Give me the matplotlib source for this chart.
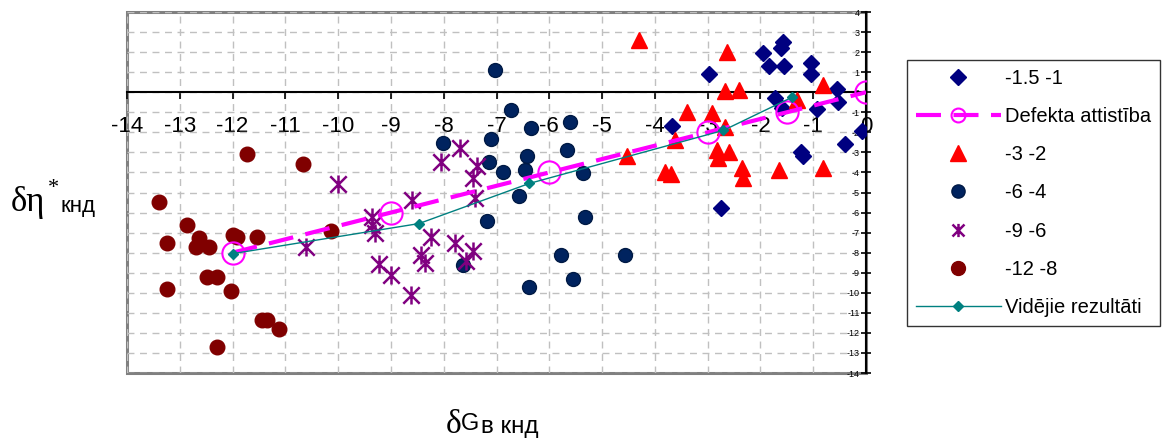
import numpy as np
import matplotlib
matplotlib.use('Agg')
import matplotlib.pyplot as plt
from matplotlib.path import Path
from matplotlib.patches import Rectangle

plt.rcParams.update({
    'font.family': ['Liberation Sans', 'DejaVu Sans'],
    'axes.unicode_minus': False,
})

# ---------------------------------------------------------------------------
# Data
# ---------------------------------------------------------------------------
g15_x = [-2.97, -3.67, -1.95, -1.84, -1.57, -1.61, -1.55, -1.72, -1.59, -1.04,
         -1.04, -0.93, -0.55, -0.53, -1.23, -1.20, -0.40, -0.08, -2.75]
g15_y = [0.9, -1.7, 1.95, 1.3, 2.5, 2.2, 1.3, -0.3, -0.8, 1.45,
         0.9, -0.85, 0.15, -0.5, -3.0, -3.2, -2.6, -1.95, -5.75]

g3_x = [-4.30, -2.63, -2.67, -2.40, -3.39, -2.92, -2.67, -3.62, -2.83, -2.80,
        -2.60, -2.35, -2.33, -3.81, -3.70, -1.65, -0.81, -0.81, -1.30, -4.53]
g3_y = [2.6, 2.0, 0.05, 0.1, -1.0, -1.05, -1.75, -2.4, -2.9, -3.3,
        -3.0, -3.8, -4.3, -4.0, -4.1, -3.9, -3.8, 0.35, -0.4, -3.2]

g6_x = [-7.03, -6.72, -6.34, -5.60, -8.01, -7.10, -6.42, -5.66, -7.14, -6.88,
        -6.46, -5.36, -6.57, -5.32, -7.18, -5.78, -4.56, -7.63, -5.55, -6.38]
g6_y = [1.1, -0.9, -1.8, -1.5, -2.55, -2.35, -3.2, -2.9, -3.5, -4.0,
        -3.9, -4.05, -5.15, -6.2, -6.4, -8.1, -8.1, -8.6, -9.3, -9.7]

g9_x = [-10.0, -7.70, -8.05, -7.37, -7.44, -8.60, -7.40, -10.6, -9.35, -9.35,
        -9.30, -8.24, -8.43, -8.35, -7.78, -7.44, -7.58, -9.22, -9.00, -8.62]
g9_y = [-4.6, -2.8, -3.5, -3.7, -4.3, -5.35, -5.25, -7.7, -6.2, -6.6,
        -7.0, -7.2, -8.1, -8.5, -7.5, -7.9, -8.4, -8.55, -9.1, -10.1]

g12_x = [-11.72, -10.66, -13.40, -12.86, -13.24, -12.63, -12.70, -12.44, -12.00, -11.92,
         -11.53, -10.13, -12.48, -12.29, -13.24, -12.03, -11.44, -11.35, -11.12, -12.29]
g12_y = [-3.1, -3.6, -5.45, -6.6, -7.5, -7.25, -7.7, -7.7, -7.1, -7.2,
         -7.2, -6.9, -9.2, -9.2, -9.8, -9.9, -11.35, -11.35, -11.8, -12.7]

defekts_x = [-12, -9, -6, -3, -1.5, 0]
defekts_y = [-8, -6, -4, -2, -1, 0]

videjie_x = [-12, -8.47, -6.38, -2.7, -1.4]
videjie_y = [-8.05, -6.55, -4.55, -1.9, -0.25]

x_ticks = np.arange(-14, 1, 1)
y_ticks = np.arange(-14, 5, 1)

# asterisk marker like in Excel (X + vertical bar)
star = Path([(-1, -1), (1, 1), (-1, 1), (1, -1), (0, -1.1), (0, 1.1)],
            [Path.MOVETO, Path.LINETO, Path.MOVETO, Path.LINETO, Path.MOVETO, Path.LINETO])

# ---------------------------------------------------------------------------
fig = plt.figure(figsize=(11.64, 4.41), dpi=100)
ax = fig.add_axes([127 / 1164, 1 - 373 / 441, (866 - 127) / 1164, (373 - 12) / 441])

ax.plot(g15_x, g15_y, linestyle='none', marker='D', ms=8.5, color='#000080',
        label='-1.5 -1', zorder=3)
ax.plot(defekts_x, defekts_y, color='#ff00ff', lw=3, dashes=(6, 3),
        marker='o', ms=16, mfc='none', mec='#ff00ff', mew=1.5,
        label='Defekta attistība', zorder=4)
ax.plot(g3_x, g3_y, linestyle='none', marker='^', ms=11, color='#ff0000',
        label='-3 -2', zorder=3)
ax.plot(g6_x, g6_y, linestyle='none', marker='o', ms=10, color='#00235f',
        mec='#001a45', label='-6 -4', zorder=3)
ax.plot(g9_x, g9_y, linestyle='none', marker=star, ms=13, color='#800080',
        mew=1.8, label='-9 -6', zorder=3)
ax.plot(g12_x, g12_y, linestyle='none', marker='o', ms=10.5, color='#800000',
        label='-12 -8', zorder=3)
ax.plot(videjie_x, videjie_y, color='#008080', lw=1, marker='D', ms=5,
        label='Vidējie rezultāti', zorder=5)

ax.set_xlim(-14, 0)
ax.set_ylim(-14, 4)
ax.set_xticks(x_ticks)
ax.set_yticks(y_ticks)
ax.set_xticklabels([str(v) for v in x_ticks])
ax.set_yticklabels([str(v) for v in y_ticks])

ax.grid(True, color='#c0c0c0', linestyle=(0, (5, 4)), linewidth=1)
ax.set_axisbelow(True)

# axes cross at zero, outer frame in grey
ax.spines['left'].set_position(('data', 0))
ax.spines['bottom'].set_position(('data', 0))
ax.spines['right'].set_visible(False)
ax.spines['top'].set_visible(False)
for s in ('left', 'bottom'):
    ax.spines[s].set_color('black')
    ax.spines[s].set_linewidth(1.5)
ax.add_patch(Rectangle((0, 0), 1, 1, transform=ax.transAxes, fill=False,
                       edgecolor='#808080', lw=2.2, zorder=0.5, clip_on=False))

ax.tick_params(axis='x', direction='out', length=5, width=1.2,
               labelsize=16, pad=12)
ax.tick_params(axis='y', direction='inout', length=7, width=1.2,
               labelsize=6.5, pad=1)

# legend
leg = fig.legend(loc='upper left', bbox_to_anchor=(907 / 1164, 1 - 60 / 441),
                 fontsize=14.5, frameon=True, fancybox=False, shadow=False,
                 borderaxespad=0, handlelength=4.2, handletextpad=0.2,
                 labelspacing=0.95, borderpad=0.45)
leg.get_frame().set_edgecolor('black')
leg.get_frame().set_linewidth(1)
hs = leg.legend_handles
hs[0].set_markersize(8)
hs[1].set_markersize(10)
hs[2].set_markersize(11)
hs[3].set_markersize(9.5)
hs[4].set_markersize(9.5)
hs[5].set_markersize(10)
hs[6].set_markersize(5)

# axis titles
fig.text(11 / 1164, 1 - 211 / 441, 'δη', fontsize=25, family='Liberation Serif',
         ha='left', va='baseline')
fig.text(48 / 1164, 1 - 193 / 441, '*', fontsize=16, family='Liberation Serif',
         ha='left', va='baseline')
fig.text(61 / 1164, 1 - 212 / 441, 'кнд', fontsize=16, ha='left', va='baseline')

fig.text(446 / 1164, 1 - 433 / 441, 'δ', fontsize=24, family='Liberation Serif',
         ha='left', va='baseline')
fig.text(461 / 1164, 1 - 430 / 441, 'G', fontsize=17, ha='left', va='baseline')
fig.text(481 / 1164, 1 - 433 / 441, 'в кнд', fontsize=17.5, ha='left', va='baseline')

fig.savefig('out.png', dpi=100)
